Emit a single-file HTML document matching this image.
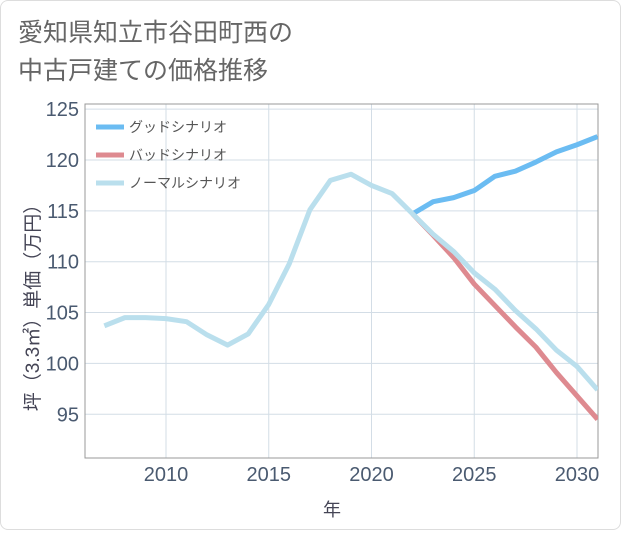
<!DOCTYPE html>
<html><head><meta charset="utf-8"><style>
body{margin:0;background:#fff;}
#card{position:absolute;left:0;top:0;width:619px;height:528px;border:1px solid #ddd;border-radius:8px;background:#fff;}
text{font-family:"Liberation Sans","Noto Sans CJK JP",sans-serif;}
</style></head><body>
<div id="card">
<svg id="chart" width="621" height="530">
<text x="17" y="40" font-size="25" fill="#666">愛知県知立市谷田町西の</text>
<text x="17" y="78" font-size="25" fill="#666">中古戸建ての価格推移</text>
<g id="grid"></g>
<g id="series"></g>
<g id="legend"></g>
<text x="331" y="515" font-size="18" fill="#445" text-anchor="middle">年</text>
<text transform="translate(38,302) rotate(-90)" font-size="19" fill="#445" text-anchor="middle">坪（3.3㎡）単価（万円）</text>
</svg>
</div>
<script>
const years=[2007,2008,2009,2010,2011,2012,2013,2014,2015,2016,2017,2018,2019,2020,2021,2022,2023,2024,2025,2026,2027,2028,2029,2030,2031];
const normal=[103.7,104.5,104.5,104.4,104.1,102.8,101.8,102.9,105.8,109.8,115.1,118.0,118.6,117.5,116.7,114.7,112.7,111.0,108.9,107.3,105.2,103.4,101.3,99.7,97.4];
const goodYears=[2022,2023,2024,2025,2026,2027,2028,2029,2030,2031];
const good=[114.7,115.9,116.3,117.0,118.4,118.9,119.8,120.8,121.5,122.3];
const bad=[114.7,112.6,110.4,107.8,105.7,103.6,101.6,99.1,96.8,94.5];
const xTicks=[2010,2015,2020,2025,2030];
const yTicks=[95,100,105,110,115,120,125];
const L=84,R=597,T=103,B=457;
const x=v=>165+(v-2010)*20.55;
const y=v=>159-(v-120)*10.17;
const NS="http://www.w3.org/2000/svg";
function mk(tag,attrs,parent){const e=document.createElementNS(NS,tag);for(const k in attrs)e.setAttribute(k,attrs[k]);parent.appendChild(e);return e;}
const grid=document.getElementById('grid');
for(const t of xTicks){
 const l=mk('line',{x1:x(t),x2:x(t),y1:T,y2:B,stroke:'#d3dde6','stroke-width':1},grid);
 
 
 const tx=mk('text',{x:x(t),y:480,'font-size':20,fill:'#4a5a70','text-anchor':'middle'},grid);
 tx.textContent=t;
 
 
}
for(const t of yTicks){
 const l=mk('line',{x1:L,x2:R,y1:y(t),y2:y(t),stroke:'#d3dde6','stroke-width':1},grid);
 
 
 const tx=mk('text',{x:78,y:y(t)+7,'font-size':20,fill:'#4a5a70','text-anchor':'end'},grid);
 tx.textContent=t;
 
 
}
const frame=mk('rect',{x:L,y:T,width:R-L,height:B-T,fill:'none',stroke:'#999','stroke-width':1},grid);


const sg=document.getElementById('series');
const clip=mk('clipPath',{id:'pc'},sg);mk('rect',{x:L,y:T,width:R-L,height:B-T},clip);
function line(xs,vs,color,name){
 const p=mk('polyline',{points:xs.map((t,i)=>x(t)+','+y(vs[i])).join(' '),fill:'none',stroke:color,'stroke-width':5,'stroke-linejoin':'round','clip-path':'url(#pc)'},sg);
 
 
}
line(goodYears,good,'#6bbcf2','good-scenario-line');
line(goodYears,bad,'#de8a90','bad-scenario-line');
line(years,normal,'#badfed','normal-scenario-line');
const lg=document.getElementById('legend');
const items=[['グッドシナリオ','#6bbcf2','legend-good'],['バッドシナリオ','#de8a90','legend-bad'],['ノーマルシナリオ','#badfed','legend-normal']];
items.forEach((it,i)=>{
 const g=mk('g',{},lg);
 
 
 const yy=126+i*28;
 mk('line',{x1:95,x2:123,y1:yy,y2:yy,stroke:it[1],'stroke-width':5},g);
 const t=mk('text',{x:128,y:yy+5,'font-size':14,fill:'#555'},g);t.textContent=it[0];
});
</script>
</body></html>
